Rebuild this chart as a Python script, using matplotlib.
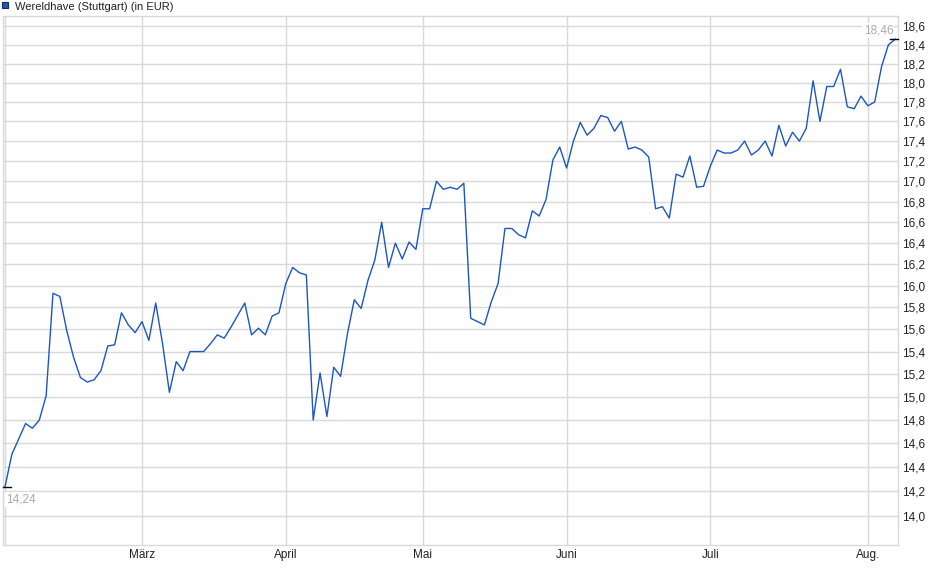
import numpy as np
import matplotlib
matplotlib.use('Agg')
import matplotlib.pyplot as plt
from matplotlib.ticker import FixedLocator, NullLocator

# closing prices, one per trading day (Feb 3 .. Aug 7)
prices = [14.24, 14.51, 14.64, 14.77, 14.73, 14.80, 15.01, 15.93, 15.90, 15.59,
          15.35, 15.17, 15.13, 15.15, 15.23, 15.45, 15.46, 15.75, 15.64, 15.57,
          15.67, 15.50, 15.84, 15.47, 15.04, 15.31, 15.23, 15.40, 15.40, 15.40,
          15.47, 15.55, 15.52, 15.62, 15.73, 15.84, 15.55, 15.61, 15.55, 15.72,
          15.75, 16.02, 16.17, 16.12, 16.10, 14.80, 15.21, 14.83, 15.26, 15.18,
          15.56, 15.87, 15.79, 16.05, 16.24, 16.60, 16.17, 16.40, 16.25, 16.41,
          16.34, 16.73, 16.73, 17.00, 16.92, 16.94, 16.92, 16.98, 15.70, 15.67,
          15.64, 15.85, 16.02, 16.54, 16.54, 16.48, 16.45, 16.71, 16.66, 16.82,
          17.21, 17.34, 17.13, 17.40, 17.59, 17.46, 17.53, 17.66, 17.64, 17.50,
          17.60, 17.32, 17.34, 17.31, 17.24, 16.73, 16.75, 16.64, 17.07, 17.04,
          17.25, 16.94, 16.95, 17.15, 17.31, 17.28, 17.28, 17.31, 17.40, 17.26,
          17.31, 17.40, 17.25, 17.56, 17.35, 17.49, 17.40, 17.53, 18.02, 17.60,
          17.96, 17.96, 18.14, 17.75, 17.73, 17.86, 17.76, 17.80, 18.17, 18.40,
          18.46]
month_pos = [0, 20, 41, 61, 82, 103, 126]
month_labels = ['', 'März', 'April', 'Mai', 'Juni', 'Juli', 'Aug.']
y_ticks = [14.0, 14.2, 14.4, 14.6, 14.8, 15.0, 15.2, 15.4, 15.6, 15.8, 16.0,
           16.2, 16.4, 16.6, 16.8, 17.0, 17.2, 17.4, 17.6, 17.8, 18.0, 18.2,
           18.4, 18.6]

plt.rcParams['font.family'] = ['Liberation Sans', 'DejaVu Sans']
blue = '#1c56c2'
grid = '#d9d9d9'

fig = plt.figure(figsize=(9.4, 5.79), dpi=100)
W, H = 940, 579
ax = fig.add_axes([3 / W, 1 - 545 / H, (898 - 3) / W, (545 - 16) / H])

x = np.arange(len(prices))
ax.plot(x, prices, color=blue, lw=1.0, zorder=3)

ax.set_yscale('log')
ax.set_xlim(-0.3, 130.4)
ax.set_ylim(13.765, 18.71)

ax.yaxis.set_major_locator(FixedLocator(y_ticks))
ax.yaxis.set_minor_locator(NullLocator())
ax.set_yticklabels([f'{v:.1f}'.replace('.', ',') for v in y_ticks])
ax.yaxis.tick_right()
ax.set_xticks(month_pos)
ax.set_xticklabels(month_labels)
ax.tick_params(axis='both', length=0, labelsize=8.5, colors='#222222')
ax.tick_params(axis='y', pad=3)
ax.tick_params(axis='x', pad=3)

ax.grid(True, color=grid, lw=1.0, zorder=0)
for s in ax.spines.values():
    s.set_color(grid)
    s.set_linewidth(1.0)

# first / last value markers
ax.plot([-0.3, 0.8], [prices[0], prices[0]], color='black', lw=1.0, zorder=4, clip_on=False)
ax.plot([129.3, 130.4], [prices[-1], prices[-1]], color='black', lw=1.0, zorder=4, clip_on=False)
ax.annotate(f'{prices[0]:.2f}'.replace('.', ','), (0, prices[0]), xytext=(0.5, -5),
            textcoords='offset points', ha='left', va='top', fontsize=8.5, color='#aaaaaa',
            bbox=dict(boxstyle='square,pad=0.1', fc='white', ec='none'), zorder=5)
ax.annotate(f'{prices[-1]:.2f}'.replace('.', ','), (130, prices[-1]), xytext=(-1.5, 2),
            textcoords='offset points', ha='right', va='bottom', fontsize=8.5, color='#aaaaaa',
            bbox=dict(boxstyle='square,pad=0.1', fc='white', ec='none'), zorder=5)

# legend
fig.patches.append(plt.Rectangle((1.5 / W, 1 - 8 / H), 6 / W, 6 / H, transform=fig.transFigure,
                                 fc=blue, ec='#1a2a60', lw=0.8))
fig.text(15 / W, 1 - 6.5 / H, 'Wereldhave (Stuttgart) (in EUR)', ha='left', va='center',
         fontsize=8, color='#222222')

fig.savefig('out.png', dpi=100)
